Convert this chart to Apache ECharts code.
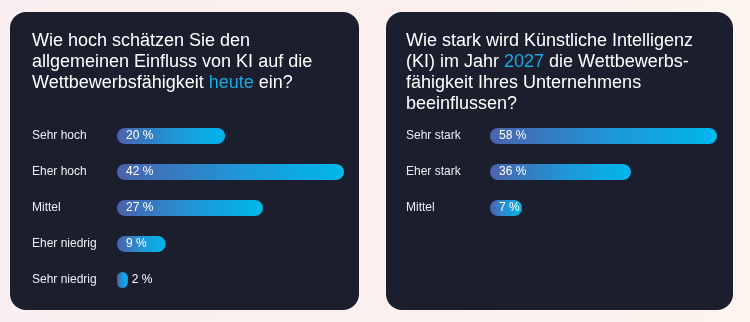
<!DOCTYPE html>
<html>
<head>
<meta charset="utf-8">
<script src="https://cdn.jsdelivr.net/npm/echarts@6/dist/echarts.min.js"></script>
<style>
html,body{margin:0;padding:0;}
body{width:750px;height:322px;background:linear-gradient(90deg,#fbeef0 0%,#fbf0ef 60%,#fcf4ee 100%);}
#c{width:750px;height:322px;}
</style>
</head>
<body>
<div id="c"></div>
<script>
const leftCategories = ['Sehr hoch', 'Eher hoch', 'Mittel', 'Eher niedrig', 'Sehr niedrig'];
const leftValues = [20, 42, 27, 9, 2];
const rightCategories = ['Sehr stark', 'Eher stark', 'Mittel'];
const rightValues = [58, 36, 7];
const leftTitle = 'Wie hoch schätzen Sie den\nallgemeinen Einfluss von KI auf die\nWettbewerbsfähigkeit {h|heute} ein?';
const rightTitle = 'Wie stark wird Künstliche Intelligenz\n(KI) im Jahr {h|2027} die Wettbewerbs-\nfähigkeit Ihres Unternehmens\nbeeinflussen?';

const FONT = '"Liberation Sans", Arial, sans-serif';
const chart = echarts.init(document.getElementById('c'), null, {renderer: 'canvas'});

function grad() {
  return new echarts.graphic.LinearGradient(0, 0, 1, 0, [
    {offset: 0, color: '#4b62ad'},
    {offset: 0.55, color: '#1e98d8'},
    {offset: 1, color: '#00b7eb'}
  ]);
}
function barData(vals) {
  return vals.map(v => ({
    value: v,
    label: v < 5 ? {position: 'right', distance: 4} : {position: 'insideLeft', distance: 9}
  }));
}
const titleStyle = {
  color: '#ffffff', fontSize: 18, lineHeight: 21, fontFamily: FONT, fontWeight: 'normal',
  rich: {h: {color: '#1ba8e0', fontSize: 18, lineHeight: 21, fontFamily: FONT}}
};
function yAx(idx, cats, margin) {
  return {
    type: 'category', gridIndex: idx, data: cats, inverse: true,
    axisLine: {show: false}, axisTick: {show: false}, splitLine: {show: false},
    axisLabel: {align: 'left', margin: margin, color: '#eceef2', fontSize: 12, fontFamily: FONT}
  };
}
function xAx(idx, max) {
  return {type: 'value', gridIndex: idx, min: 0, max: max, show: false, splitLine: {show: false}};
}
function ser(idx, vals) {
  return {
    type: 'bar', xAxisIndex: idx, yAxisIndex: idx, data: barData(vals),
    barWidth: 16, barMinHeight: idx === 1 ? 32 : 0,
    itemStyle: {borderRadius: 8, color: grad()},
    label: {show: true, formatter: '{c} %', color: '#ffffff', fontSize: 12, fontFamily: FONT},
    silent: true
  };
}

chart.setOption({
  animation: false,
  backgroundColor: 'transparent',
  graphic: [
    {type: 'rect', z: -10, shape: {x: 10, y: 12, width: 349, height: 298, r: 16}, style: {fill: '#1b1f2d'}},
    {type: 'rect', z: -10, shape: {x: 386, y: 12, width: 347, height: 298, r: 16}, style: {fill: '#1b1f2d'}}
  ],
  title: [
    {text: leftTitle, left: 32, top: 31, padding: 0, textStyle: titleStyle},
    {text: rightTitle, left: 406, top: 31, padding: 0, textStyle: titleStyle}
  ],
  grid: [
    {left: 117, top: 118, width: 227, height: 180},
    {left: 490, top: 118, width: 227, height: 108}
  ],
  xAxis: [xAx(0, 42), xAx(1, 58)],
  yAxis: [yAx(0, leftCategories, 85), yAx(1, rightCategories, 84)],
  series: [ser(0, leftValues), ser(1, rightValues)]
});
</script>
</body>
</html>
